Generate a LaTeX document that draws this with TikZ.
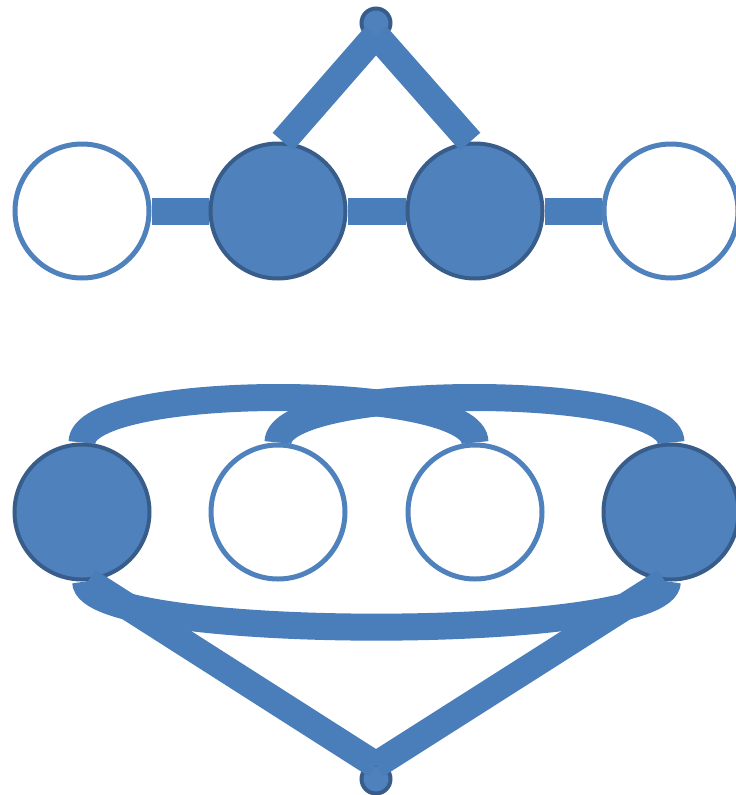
\documentclass[tikz,border=0pt]{standalone}
\usetikzlibrary{backgrounds,calc}
\definecolor{lineblue}{HTML}{4A7EBB}
\definecolor{fillblue}{HTML}{4F81BD}
\definecolor{darkblue}{HTML}{385D8A}
\begin{document}
\begin{tikzpicture}[x=1pt,y=-1pt,
  full/.style={circle,draw=darkblue,fill=fillblue,line width=4pt,inner sep=0pt,minimum size=135pt},
  empty/.style={circle,draw=fillblue,fill=white,line width=5pt,inner sep=0pt,minimum size=134pt},
  dot/.style={circle,draw=darkblue,fill=fillblue,line width=4pt,inner sep=0pt,minimum size=29pt},
  bar/.style={draw=lineblue,line width=27pt,line cap=butt}]
\useasboundingbox (0,0) rectangle (736,795);
% top row
\node[empty] (c1) at (82,211) {};
\node[full]  (c2) at (278,211) {};
\node[full]  (c3) at (475,211) {};
\node[empty] (c4) at (671,211) {};
% bottom row
\node[full]  (c5) at (82,512) {};
\node[empty] (c6) at (278,512) {};
\node[empty] (c7) at (475,512) {};
\node[full]  (c8) at (671,512) {};
% small nodes
\node[dot] (tn) at (376,23) {};
\node[dot] (bn) at (376,779) {};
\begin{scope}[on background layer]
  \draw[bar] (c1.east) -- (c2.west);
  \draw[bar] (c2.east) -- (c3.west);
  \draw[bar] (c3.east) -- (c4.west);
\end{scope}
% top triangle
\draw[bar] ([yshift=-12pt]tn.center) -- (c2.86);
\draw[bar] ([yshift=-12pt]tn.center) -- (c3.94);
% upper arcs
\draw[bar] (c5.north) .. controls +(0,-60) and +(0,-60) .. (c7.north);
\draw[bar] (c6.north) .. controls +(0,-60) and +(0,-60) .. (c8.north);
% lower arc
\draw[bar] (c5.-87) .. controls +(0,61) and +(0,61) .. (c8.-93);
% bottom triangle
\draw[bar] (c5.-85) -- ([yshift=14pt]bn.center);
\draw[bar] (c8.-95) -- ([yshift=14pt]bn.center);
\end{tikzpicture}
\end{document}
